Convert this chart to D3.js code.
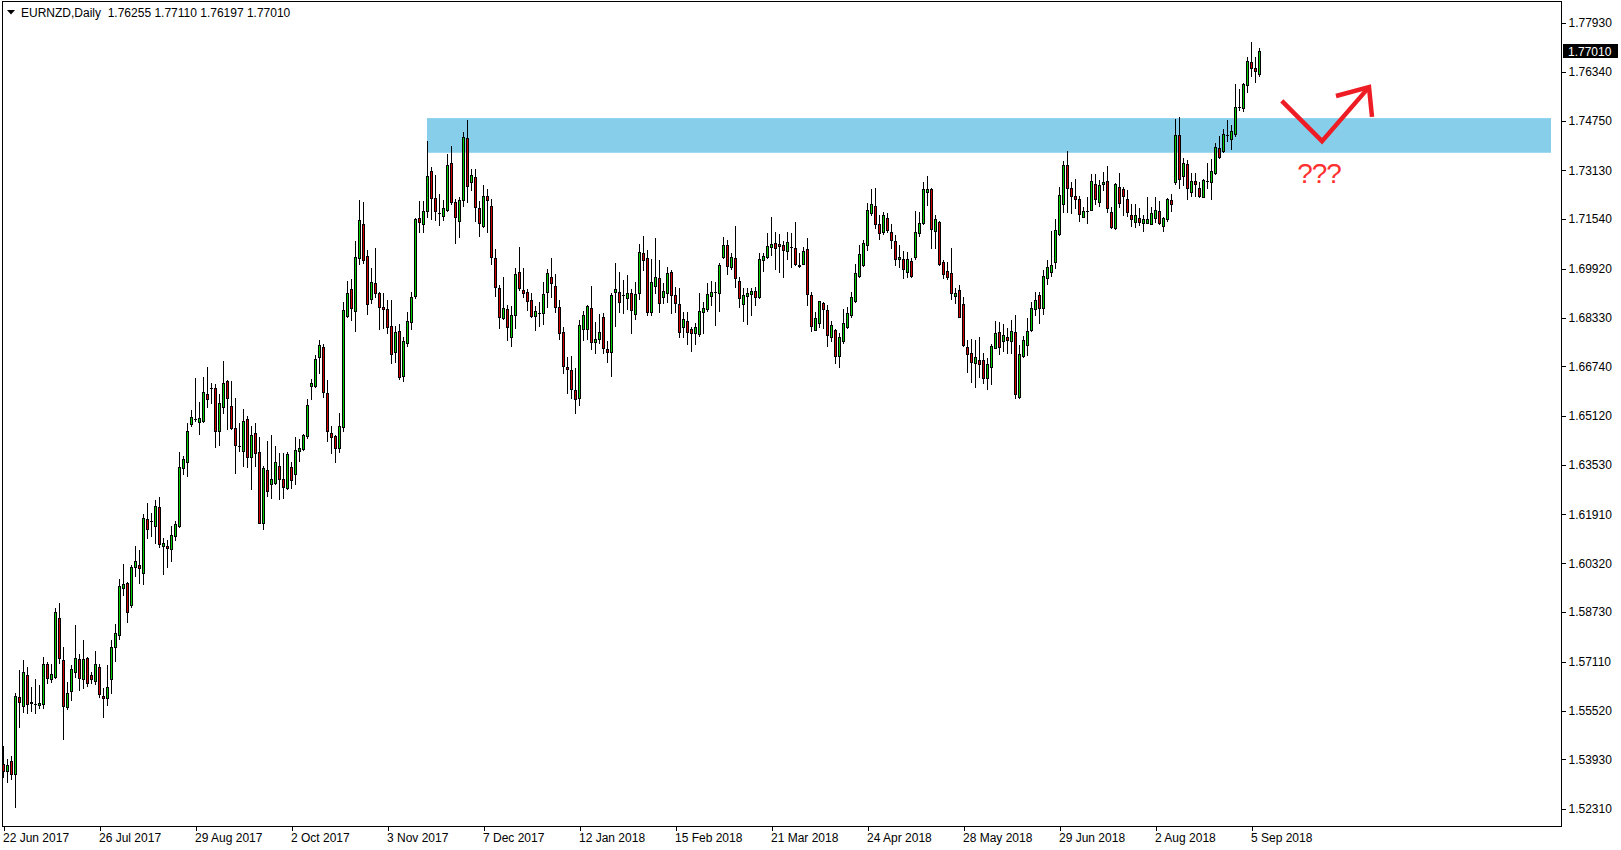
<!DOCTYPE html>
<html><head><meta charset="utf-8">
<script src="https://cdn.jsdelivr.net/npm/d3@7"></script>
<style>
html,body{margin:0;padding:0;background:#fff;overflow:hidden}
svg{display:block}
text{font-family:"Liberation Sans",Arial,sans-serif;font-size:12px;fill:#000}
</style></head><body>
<svg id="c" width="1621" height="850"></svg>
<script>
const symbolTitle = "EURNZD,Daily  1.76255 1.77110 1.76197 1.77010";
const lastPriceLabel = "1.77010";

const openPrices = [1.5377,1.5355,1.5387,1.5345,1.5596,1.5566,1.5667,1.5579,1.5573,1.5570,
1.5573,1.5703,1.5655,1.5661,1.5853,1.5716,1.5563,1.5615,1.5677,1.5720,
1.5655,1.5723,1.5667,1.5648,1.5693,1.5599,1.5593,1.5655,1.5759,1.5798,
1.5951,1.5967,1.5896,1.6020,1.6026,1.6000,1.6176,1.6169,1.6153,1.6215,
1.6088,1.6088,1.6078,1.6121,1.6153,1.6342,1.6362,1.6486,1.6502,1.6492,
1.6496,1.6584,1.6603,1.6603,1.6463,1.6541,1.6626,1.6544,1.6472,1.6414,
1.6398,1.6502,1.6378,1.6456,1.6394,1.6163,1.6336,1.6290,1.6293,1.6348,
1.6306,1.6277,1.6345,1.6323,1.6398,1.6404,1.6447,1.6610,1.6610,1.6704,
1.6737,1.6587,1.6456,1.6447,1.6408,1.6476,1.6838,1.6926,1.6854,1.7027,
1.7138,1.7033,1.6893,1.6946,1.6913,1.6867,1.6861,1.6806,1.6722,1.6789,
1.6642,1.6750,1.6818,1.6903,1.7157,1.7138,1.7180,1.7311,1.7223,1.7174,
1.7164,1.7183,1.7337,1.7209,1.7148,1.7216,1.7418,1.7275,1.7291,1.7190,
1.7131,1.7229,1.7196,1.7027,1.6929,1.6831,1.6861,1.6770,1.6841,1.6981,
1.6923,1.6916,1.6890,1.6838,1.6848,1.6848,1.6916,1.6965,1.6936,1.6867,
1.6786,1.6672,1.6662,1.6597,1.6570,1.6796,1.6796,1.6864,1.6753,1.6763,
1.6835,1.6730,1.6721,1.6916,1.6916,1.6906,1.6897,1.6913,1.6844,1.6913,
1.7043,1.7027,1.6851,1.6936,1.6962,1.6900,1.6913,1.6981,1.6906,1.6877,
1.6803,1.6822,1.6796,1.6783,1.6779,1.6851,1.6861,1.6903,1.6916,1.6913,
1.7030,1.7069,1.6998,1.7027,1.6952,1.6877,1.6903,1.6910,1.6919,1.6900,
1.7020,1.7030,1.7063,1.7076,1.7073,1.7069,1.7049,1.7063,1.7059,1.7004,
1.7009,1.7056,1.6906,1.6792,1.6815,1.6880,1.6857,1.6770,1.6792,1.6707,
1.6757,1.6803,1.6841,1.6887,1.6968,1.7004,1.7069,1.7174,1.7196,1.7138,
1.7112,1.7157,1.7112,1.7082,1.7024,1.7024,1.6981,1.7017,1.7030,1.7108,
1.7141,1.7242,1.7252,1.7115,1.7144,1.7014,1.6985,1.6978,1.6903,1.6923,
1.6877,1.6737,1.6717,1.6685,1.6694,1.6694,1.6636,1.6672,1.6734,1.6786,
1.6757,1.6770,1.6757,1.6786,1.6574,1.6707,1.6743,1.6792,1.6861,1.6906,
1.6864,1.6962,1.6981,1.7014,1.7105,1.7203,1.7330,1.7255,1.7229,1.7219,
1.7161,1.7180,1.7183,1.7268,1.7209,1.7268,1.7278,1.7177,1.7125,1.7258,
1.7252,1.7219,1.7167,1.7144,1.7157,1.7141,1.7141,1.7138,1.7157,1.7180,
1.7131,1.7154,1.7216,1.7275,1.7428,1.7294,1.7333,1.7242,1.7278,1.7255,
1.7226,1.7278,1.7275,1.7304,1.7386,1.7376,1.7428,1.7415,1.7431,1.7519,
1.7516,1.7591,1.7666,1.7646,1.76255];

const highPrices = [1.5436,1.5394,1.5403,1.5609,1.5684,1.5716,1.5693,1.5628,1.5655,1.5635,
1.5726,1.5710,1.5703,1.5886,1.5902,1.5759,1.5645,1.5700,1.5830,1.5736,
1.5782,1.5726,1.5677,1.5746,1.5703,1.5625,1.5700,1.5782,1.5834,1.5980,
1.6029,1.5970,1.6026,1.6088,1.6075,1.6192,1.6228,1.6196,1.6238,1.6248,
1.6114,1.6108,1.6153,1.6169,1.6394,1.6381,1.6489,1.6531,1.6636,1.6557,
1.6639,1.6671,1.6619,1.6616,1.6584,1.6691,1.6629,1.6626,1.6570,1.6489,
1.6535,1.6512,1.6479,1.6489,1.6443,1.6348,1.6430,1.6450,1.6414,1.6391,
1.6391,1.6394,1.6362,1.6443,1.6437,1.6453,1.6567,1.6632,1.6711,1.6760,
1.6747,1.6629,1.6479,1.6450,1.6522,1.6883,1.6952,1.6958,1.7082,1.7216,
1.7209,1.7053,1.6994,1.7059,1.6916,1.6913,1.6890,1.6890,1.6806,1.6812,
1.6770,1.6851,1.6916,1.7157,1.7213,1.7213,1.7408,1.7324,1.7298,1.7236,
1.7216,1.7366,1.7392,1.7219,1.7226,1.7438,1.7477,1.7317,1.7317,1.7213,
1.7265,1.7252,1.7219,1.7056,1.6939,1.6965,1.6874,1.6870,1.6994,1.7063,
1.6994,1.6925,1.6913,1.6870,1.6883,1.6949,1.6991,1.7027,1.6975,1.6890,
1.6802,1.6704,1.6707,1.6668,1.6825,1.6854,1.6874,1.6936,1.6818,1.6844,
1.6848,1.6756,1.6913,1.7010,1.6981,1.6955,1.6971,1.6926,1.6949,1.7073,
1.7099,1.7053,1.7024,1.7092,1.7020,1.6946,1.6998,1.6988,1.6932,1.6929,
1.6851,1.6851,1.6802,1.6815,1.6913,1.6883,1.6946,1.6952,1.6949,1.7010,
1.7095,1.7086,1.7043,1.7131,1.6965,1.6929,1.6929,1.6929,1.6932,1.7043,
1.7043,1.7108,1.7161,1.7112,1.7105,1.7082,1.7112,1.7108,1.7143,1.7043,
1.7063,1.7092,1.6916,1.6851,1.6887,1.6883,1.6874,1.6822,1.6796,1.6783,
1.6861,1.6867,1.6916,1.7007,1.7069,1.7086,1.7206,1.7252,1.7255,1.7167,
1.7177,1.7174,1.7138,1.7102,1.7069,1.7049,1.7046,1.7027,1.7180,1.7177,
1.7275,1.7294,1.7255,1.7167,1.7148,1.7020,1.7014,1.7059,1.6929,1.6939,
1.6900,1.6760,1.6763,1.6760,1.6770,1.6717,1.6701,1.6747,1.6822,1.6818,
1.6812,1.6799,1.6825,1.6841,1.6743,1.6773,1.6831,1.6883,1.6916,1.6916,
1.6988,1.7020,1.7115,1.7154,1.7258,1.7343,1.7376,1.7275,1.7284,1.7229,
1.7193,1.7226,1.7301,1.7301,1.7281,1.7307,1.7327,1.7193,1.7271,1.7304,
1.7258,1.7249,1.7203,1.7203,1.7190,1.7167,1.7226,1.7193,1.7226,1.7213,
1.7161,1.7222,1.7236,1.7480,1.7487,1.7353,1.7346,1.7304,1.7304,1.7275,
1.7284,1.7337,1.7350,1.7402,1.7425,1.7447,1.7477,1.7461,1.7594,1.7578,
1.7597,1.7682,1.7731,1.7682,1.77110];

const lowPrices = [1.5335,1.5319,1.5328,1.5237,1.5498,1.5547,1.5544,1.5550,1.5544,1.5560,
1.5560,1.5642,1.5645,1.5658,1.5706,1.5459,1.5557,1.5586,1.5661,1.5618,
1.5625,1.5632,1.5642,1.5638,1.5596,1.5531,1.5570,1.5609,1.5713,1.5785,
1.5928,1.5840,1.5889,1.5990,1.5967,1.5964,1.6114,1.6121,1.6098,1.6085,
1.5997,1.6020,1.6039,1.6108,1.6150,1.6323,1.6316,1.6479,1.6496,1.6453,
1.6492,1.6541,1.6554,1.6411,1.6417,1.6522,1.6469,1.6469,1.6326,1.6398,
1.6348,1.6345,1.6274,1.6348,1.6163,1.6143,1.6251,1.6245,1.6290,1.6241,
1.6245,1.6274,1.6277,1.6290,1.6365,1.6401,1.6440,1.6567,1.6606,1.6652,
1.6574,1.6430,1.6391,1.6362,1.6394,1.6463,1.6835,1.6825,1.6789,1.7007,
1.7010,1.6844,1.6880,1.6900,1.6796,1.6799,1.6783,1.6685,1.6688,1.6634,
1.6626,1.6740,1.6796,1.6897,1.7112,1.7112,1.7161,1.7154,1.7151,1.7135,
1.7151,1.7180,1.7203,1.7076,1.7095,1.7196,1.7209,1.7249,1.7148,1.7099,
1.7128,1.7112,1.7007,1.6903,1.6799,1.6828,1.6760,1.6740,1.6799,1.6923,
1.6900,1.6857,1.6835,1.6792,1.6806,1.6812,1.6867,1.6900,1.6851,1.6763,
1.6652,1.6587,1.6570,1.6522,1.6548,1.6760,1.6763,1.6730,1.6717,1.6750,
1.6717,1.6688,1.6642,1.6806,1.6851,1.6848,1.6861,1.6783,1.6828,1.6893,
1.6988,1.6841,1.6841,1.6913,1.6851,1.6880,1.6883,1.6848,1.6851,1.6770,
1.6770,1.6747,1.6724,1.6747,1.6773,1.6783,1.6854,1.6874,1.6809,1.6854,
1.7027,1.6975,1.6991,1.6932,1.6867,1.6822,1.6812,1.6841,1.6874,1.6898,
1.6985,1.7027,1.7037,1.6991,1.6981,1.6965,1.7024,1.6998,1.7004,1.6998,
1.7008,1.6874,1.6789,1.6791,1.6802,1.6799,1.6740,1.6757,1.6685,1.6672,
1.6750,1.6799,1.6835,1.6883,1.6965,1.7000,1.7053,1.7167,1.7125,1.7089,
1.7105,1.7112,1.7059,1.7004,1.6998,1.6962,1.6965,1.6965,1.7024,1.7099,
1.7138,1.7200,1.7059,1.7059,1.7004,1.6962,1.6958,1.6893,1.6880,1.6835,
1.6740,1.6655,1.6623,1.6606,1.6639,1.6619,1.6600,1.6616,1.6733,1.6714,
1.6724,1.6717,1.6717,1.6570,1.6570,1.6704,1.6711,1.6789,1.6841,1.6815,
1.6844,1.6942,1.6968,1.6994,1.7102,1.7177,1.7177,1.7174,1.7190,1.7148,
1.7160,1.7141,1.7182,1.7203,1.7196,1.7249,1.7177,1.7125,1.7121,1.7193,
1.7167,1.7164,1.7131,1.7128,1.7135,1.7115,1.7140,1.7137,1.7144,1.7138,
1.7115,1.7148,1.7180,1.7268,1.7255,1.7265,1.7219,1.7229,1.7229,1.7226,
1.7225,1.7255,1.7219,1.7301,1.7353,1.7372,1.7408,1.7382,1.7425,1.7509,
1.7506,1.7568,1.7620,1.7601,1.76197];

const closePrices = [1.5355,1.5374,1.5345,1.5599,1.5579,1.5677,1.5573,1.5577,1.5574,1.5576,
1.5703,1.5658,1.5671,1.5873,1.5723,1.5566,1.5609,1.5687,1.5723,1.5658,
1.5720,1.5642,1.5655,1.5703,1.5606,1.5593,1.5628,1.5759,1.5804,1.5958,
1.5964,1.5873,1.6020,1.6039,1.6016,1.6179,1.6143,1.6170,1.6218,1.6095,
1.6098,1.6082,1.6124,1.6160,1.6345,1.6372,1.6463,1.6508,1.6503,1.6505,
1.6590,1.6567,1.6602,1.6463,1.6554,1.6619,1.6570,1.6472,1.6417,1.6413,
1.6496,1.6378,1.6450,1.6391,1.6164,1.6342,1.6268,1.6306,1.6362,1.6306,
1.6280,1.6388,1.6303,1.6401,1.6408,1.6450,1.6548,1.6619,1.6698,1.6743,
1.6590,1.6463,1.6443,1.6408,1.6479,1.6857,1.6913,1.6864,1.7030,1.7151,
1.7020,1.6877,1.6949,1.6913,1.6867,1.6861,1.6803,1.6714,1.6786,1.6639,
1.6757,1.6822,1.6900,1.7154,1.7144,1.7180,1.7294,1.7223,1.7180,1.7173,
1.7190,1.7330,1.7209,1.7161,1.7216,1.7421,1.7262,1.7298,1.7193,1.7141,
1.7229,1.7216,1.7030,1.6932,1.6835,1.6864,1.6803,1.6841,1.6975,1.6929,
1.6913,1.6887,1.6838,1.6854,1.6849,1.6910,1.6978,1.6946,1.6867,1.6783,
1.6675,1.6665,1.6600,1.6567,1.6809,1.6841,1.6870,1.6753,1.6763,1.6786,
1.6734,1.6721,1.6906,1.6926,1.6884,1.6907,1.6913,1.6857,1.6910,1.7046,
1.7020,1.6851,1.6949,1.6965,1.6880,1.6919,1.6978,1.6906,1.6880,1.6786,
1.6828,1.6786,1.6783,1.6803,1.6854,1.6864,1.6910,1.6916,1.6917,1.7004,
1.7069,1.7000,1.7030,1.6962,1.6897,1.6906,1.6913,1.6919,1.6900,1.7024,
1.7033,1.7066,1.7073,1.7059,1.7066,1.7053,1.7079,1.7062,1.7009,1.7000,
1.7049,1.6910,1.6806,1.6831,1.6886,1.6861,1.6776,1.6809,1.6707,1.6770,
1.6815,1.6848,1.6900,1.6978,1.7040,1.7076,1.7183,1.7203,1.7138,1.7108,
1.7167,1.7118,1.7086,1.7024,1.7030,1.6991,1.7024,1.6968,1.7112,1.7141,
1.7252,1.7253,1.7121,1.7154,1.7007,1.6975,1.6965,1.6913,1.6913,1.6836,
1.6742,1.6714,1.6688,1.6704,1.6681,1.6636,1.6681,1.6740,1.6783,1.6737,
1.6776,1.6760,1.6789,1.6584,1.6714,1.6760,1.6789,1.6864,1.6890,1.6864,
1.6968,1.6998,1.7004,1.7118,1.7232,1.7330,1.7255,1.7229,1.7219,1.7170,
1.7180,1.7181,1.7278,1.7219,1.7265,1.7275,1.7190,1.7128,1.7268,1.7206,
1.7229,1.7177,1.7154,1.7167,1.7144,1.7154,1.7154,1.7174,1.7183,1.7141,
1.7157,1.7219,1.7203,1.7428,1.7284,1.7337,1.7255,1.7278,1.7268,1.7229,
1.7281,1.7279,1.7311,1.7389,1.7356,1.7431,1.7429,1.7441,1.7519,1.7520,
1.7594,1.7669,1.7646,1.7637,1.77010];

const xLabels = ["22 Jun 2017","26 Jul 2017","29 Aug 2017","2 Oct 2017","3 Nov 2017","7 Dec 2017","12 Jan 2018","15 Feb 2018","21 Mar 2018","24 Apr 2018","28 May 2018","29 Jun 2018","2 Aug 2018","5 Sep 2018"];
const xLabelBars = [0,24,48,72,96,120,144,168,192,216,240,264,288,312];
const yTickLabels = ["1.77930","1.76340","1.74750","1.73130","1.71540","1.69920","1.68330","1.66740","1.65120","1.63530","1.61910","1.60320","1.58730","1.57110","1.55520","1.53930","1.52310"];

const zoneTop = 1.7483, zoneBottom = 1.7370, zoneStartBar = 106, zoneEndBar = 387;
const arrowLine = [[319.7,1.7539],[329.75,1.7408],[341.5,1.7584]];
const arrowHead = [[333.25,1.7555],[341.5,1.7584],[342.25,1.7487]];
const noteText = "???", noteBar = 329, notePrice = 1.7271;

const frameL = 2, frameT = 1, frameR = 1561, frameB = 826;
const svg = d3.select("#c");

const x = d3.scaleLinear().domain([0, 389.5]).range([3, 1561]);
const y = d3.scaleLinear().domain([1.52310, 1.77930]).range([809, 23]);

// zone
svg.append("rect")
  .attr("x", x(zoneStartBar)).attr("y", y(zoneTop))
  .attr("width", x(zoneEndBar) - x(zoneStartBar))
  .attr("height", y(zoneBottom) - y(zoneTop))
  .attr("fill", "#87CEEB");

// candles
const bars = d3.range(openPrices.length);
const g = svg.append("g").attr("shape-rendering", "crispEdges");
bars.forEach(i => {
  const cx = Math.round(x(i));
  const yh = Math.round(y(highPrices[i])), yl = Math.round(y(lowPrices[i]));
  g.append("rect").attr("x", cx).attr("y", yh).attr("width", 1).attr("height", Math.max(1, yl - yh + 1)).attr("fill", "#000");
  const o = openPrices[i], c = closePrices[i];
  const yt = Math.round(y(Math.max(o, c))), yb = Math.round(y(Math.min(o, c)));
  const hh = Math.max(1, yb - yt + 1);
  g.append("rect").attr("x", cx - 1).attr("y", yt).attr("width", 3).attr("height", hh).attr("fill", "#000");
  if (hh > 2) {
    g.append("rect").attr("x", cx).attr("y", yt + 1).attr("width", 1).attr("height", hh - 2)
      .attr("fill", c >= o ? "#00d000" : "#d00000");
  }
});

// frame
svg.append("rect").attr("x", frameL + 0.5).attr("y", frameT + 0.5)
  .attr("width", frameR - frameL).attr("height", frameB - frameT)
  .attr("fill", "none").attr("stroke", "#000").attr("stroke-width", 1)
  .attr("shape-rendering", "crispEdges");

// y axis
const yAxis = d3.axisRight(y)
  .tickValues(yTickLabels.map(Number))
  .tickFormat((d, i) => yTickLabels[i])
  .tickSize(4).tickPadding(3);
const ya = svg.append("g").attr("transform", `translate(${frameR + 0.5},0)`).call(yAxis);
ya.select(".domain").remove();
ya.selectAll("line").attr("stroke", "#000").attr("shape-rendering", "crispEdges");
ya.selectAll("text").attr("font-family", '"Liberation Sans",Arial,sans-serif').attr("font-size", 12).attr("fill", "#000");

// x axis
const xAxis = d3.axisBottom(x)
  .tickValues(xLabelBars)
  .tickFormat((d, i) => xLabels[i])
  .tickSize(4);
const xa = svg.append("g").attr("transform", `translate(0.5,${frameB + 0.5})`).call(xAxis);
xa.select(".domain").remove();
xa.selectAll("line").attr("stroke", "#000").attr("shape-rendering", "crispEdges");
xa.selectAll("text").attr("text-anchor", "start").attr("x", -1).attr("y", 15).attr("dy", 0)
  .attr("font-family", '"Liberation Sans",Arial,sans-serif').attr("font-size", 12).attr("fill", "#000");

// last price label
const lp = closePrices[closePrices.length - 1];
svg.append("rect").attr("x", frameR + 2).attr("y", Math.round(y(lp)) - 7).attr("width", 55).attr("height", 14).attr("fill", "#000");
svg.append("text").attr("x", frameR + 7).attr("y", Math.round(y(lp)) + 4.5).text(lastPriceLabel).style("fill", "#fff");

// title
svg.append("path").attr("d", "M7,10 L15,10 L11,14.5 Z").attr("fill", "#000");
svg.append("text").attr("x", 21).attr("y", 17).attr("xml:space", "preserve").style("white-space", "pre").text(symbolTitle);

// annotations
const ln = d3.line().x(d => x(d[0])).y(d => y(d[1]));
svg.append("path").attr("d", ln(arrowLine)).attr("fill", "none").attr("stroke", "#ee1c24").attr("stroke-width", 4.5).attr("stroke-linejoin", "miter");
svg.append("path").attr("d", ln(arrowHead)).attr("fill", "none").attr("stroke", "#ee1c24").attr("stroke-width", 4.5).attr("stroke-linejoin", "miter");
svg.append("text").attr("x", x(noteBar)).attr("y", y(notePrice)).attr("text-anchor", "middle")
  .style("font-size", "28px").style("letter-spacing", "-1px").style("fill", "#ff3030").text(noteText);
</script>
</body></html>
